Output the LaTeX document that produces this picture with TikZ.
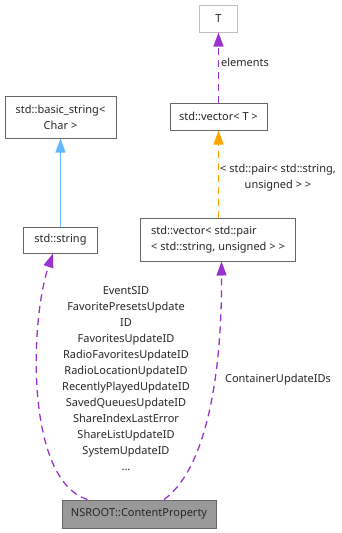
\documentclass[tikz,border=0pt]{standalone}
\usepackage{fontspec}
\setmainfont{Noto Sans}
\usetikzlibrary{arrows.meta}
\definecolor{boxline}{HTML}{666666}
\definecolor{ghostline}{HTML}{BFBFBF}
\definecolor{basefill}{HTML}{999999}
\definecolor{usagepurple}{HTML}{9A32CD}
\definecolor{inheritblue}{HTML}{63B8FF}
\definecolor{tmplorange}{HTML}{FFA500}
\begin{document}
\begin{tikzpicture}[x=1pt, y=-1pt,
  lbl/.style={font=\fontsize{11}{16}\selectfont, inner sep=0pt, text=black!85},
  box/.style={draw=boxline, line width=1pt, fill=white, inner sep=0pt, align=center,
              font=\fontsize{11}{16}\selectfont, text=black!85},
  tip/.style={-{Triangle[length=14pt,width=10pt]}},
  usage/.style={tip, color=usagepurple, line width=1.3pt, dash pattern=on 7pt off 5pt},
  inherit/.style={tip, color=inheritblue, line width=1.3pt},
  tmpl/.style={tip, color=tmplorange, line width=1.3pt, dash pattern=on 7pt off 5pt}]
\useasboundingbox (0,0) rectangle (341,533);

% class boxes
\node[box, draw=ghostline, minimum width=38pt, minimum height=27pt] (t) at (218.5,18.5) {T};
\node[box, minimum width=97pt, minimum height=27pt] (vect) at (218.5,116.5) {std::vector< T >};
\node[box, minimum width=111pt, minimum height=42pt] (bstr) at (60.5,117) {std::basic\_string<\\Char >};
\node[box, minimum width=74pt, minimum height=26pt] (str) at (60.5,240) {std::string};
\node[box, minimum width=155pt, minimum height=43pt, align=left] (vpair) at (218,239.5)
  {std::vector< std::pair\\< std::string, unsigned > >};
\node[box, fill=basefill, minimum width=154pt, minimum height=28pt] (cp) at (139,514) {NSROOT::ContentProperty};

% relations
\draw[usage] (vect) -- (t);
\node[lbl, anchor=west] (lelem) at (221,62) {elements};

\draw[tmpl] (vpair.north -| vect.south) -- (vect.south);
\node[lbl, align=center] (lpair) at (278,177.5) {< std::pair< std::string,\\unsigned > >};

\draw[inherit] (str) -- (bstr);

\draw[usage] ([xshift=26pt]cp.north west) .. controls (25,480) and (30,320) .. ([xshift=-7.5pt]str.south);
\node[lbl, align=center] (lmembers) at (126,379)
  {EventSID\\FavoritePresetsUpdate\\ID\\FavoritesUpdateID\\RadioFavoritesUpdateID\\RadioLocationUpdateID\\RecentlyPlayedUpdateID\\SavedQueuesUpdateID\\ShareIndexLastError\\ShareListUpdateID\\SystemUpdateID\\...};

\draw[usage] ([xshift=25pt]cp.north) .. controls (205,470) and (222,380) .. ([xshift=3.5pt]vpair.south);
\node[lbl] (lcont) at (278,380) {ContainerUpdateIDs};
\end{tikzpicture}
\end{document}
